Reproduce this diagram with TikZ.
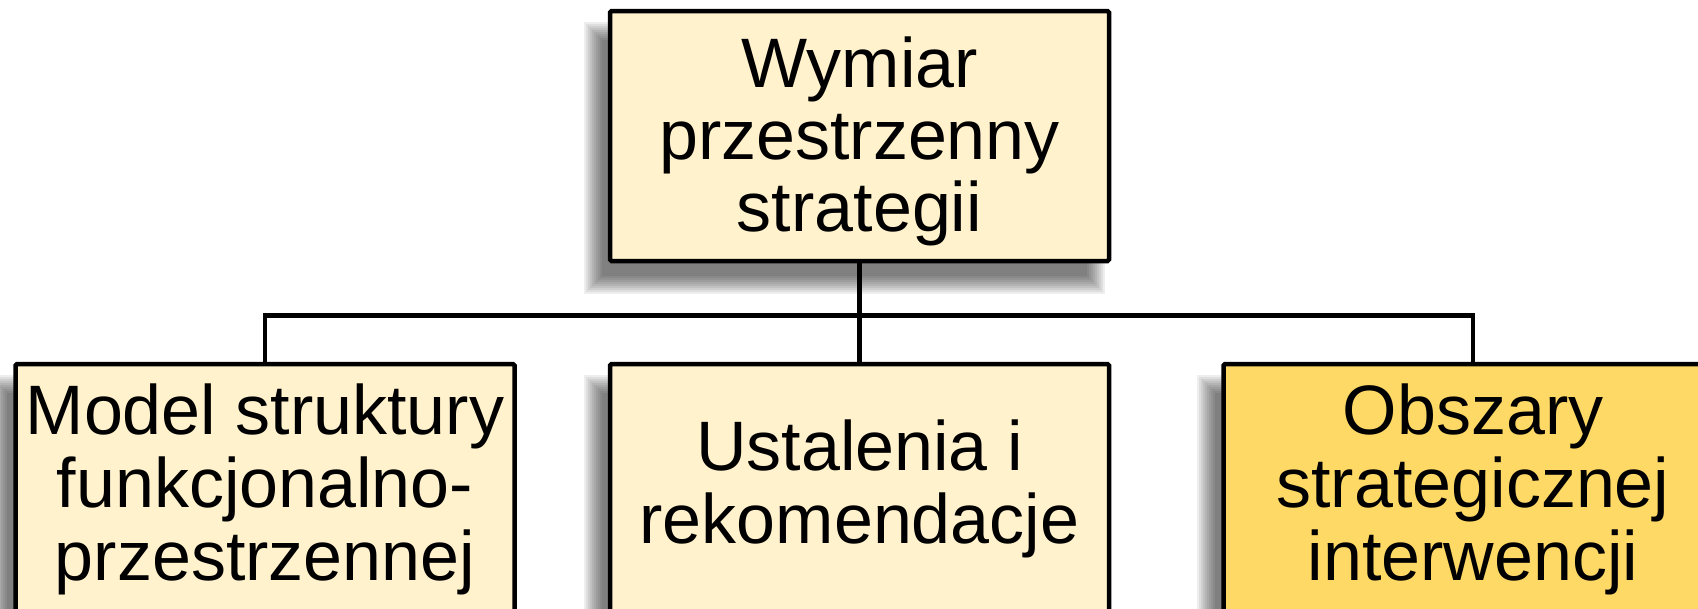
\documentclass[tikz,border=0pt]{standalone}
\usepackage{fontspec}
\setmainfont{Liberation Sans}
\usetikzlibrary{backgrounds}
\definecolor{cream}{HTML}{FFF2CC}
\definecolor{gold}{HTML}{FFD966}
\tikzset{
  box/.style={draw=black, line width=4.5pt, fill=cream, rounded corners=1.5pt,
    minimum width=499pt, minimum height=250pt, inner sep=0pt, align=center,
    font=\fontsize{70}{73}\selectfont},
  hot/.style={box, fill=gold},
  link/.style={draw=black, line width=4.5pt},
}
\begin{document}
\begin{tikzpicture}[x=1pt, y=-1pt]
\useasboundingbox (0,0) rectangle (1698,608);
\clip (0,0) rectangle (1698,608);
\node[box] (top) at (859.5,136) {};
\node[font=\fontsize{70}{72}\selectfont, align=center, inner sep=0pt] (toptext) at (859.5,141) {Wymiar\\przestrzenny\\strategii};
\node[box] (left) at (265,489) {Model struktury\\funkcjonalno-\\przestrzennej};
\node[box] (mid) at (859.5,489) {Ustalenia i\\rekomendacje};
\node[hot] (right) at (1473,489) {Obszary\\strategicznej\\interwencji};
\draw[link] (top.south) -- ++(0,52) coordinate (bus) -| (left.north);
\draw[link] (bus) -| (right.north);
\draw[link] (top.south) -- (mid.north);
\begin{scope}[on background layer]
  \clip (0,0) rectangle (1698,608);
  \foreach \n in {top,left,mid,right}{
    \foreach \e in {-9,-7,...,9}{
      \fill[black, opacity=0.065]
        ([shift={(-15-\e,22-\e)}]\n.north west) rectangle ([shift={(-15+\e,22+\e)}]\n.south east);
    }
  }
\end{scope}
\end{tikzpicture}
\end{document}
